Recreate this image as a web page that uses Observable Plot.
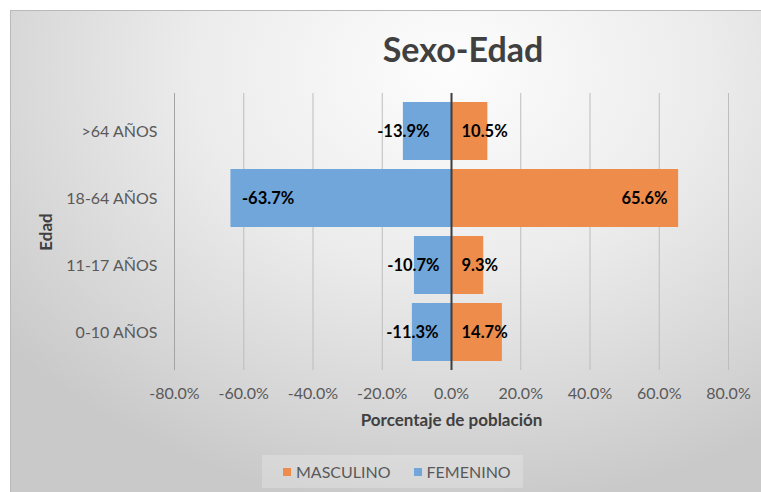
<!DOCTYPE html>
<html>
<head>
<meta charset="utf-8">
<script src="https://cdn.jsdelivr.net/npm/d3@7"></script>
<script src="https://cdn.jsdelivr.net/npm/@observablehq/plot@0.6"></script>
<style>
  html, body { margin: 0; padding: 0; background: #ffffff; }
  body { width: 761px; height: 492px; position: relative; overflow: hidden; font-family: Lato, "Open Sans", sans-serif; }
  #frame {
    position: absolute; left: 10px; top: 10px; width: 760px; height: 490px;
    border: 1px solid #b9b9b9; box-sizing: border-box;
    background: radial-gradient(ellipse 75% 90% at 58% 12%, #fdfdfd 0%, #ececec 45%, #d6d6d6 80%, #c9c9c9 100%);
  }
  #title {
    position: absolute; left: 463px; top: 28px; transform: translateX(-50%);
    font: bold 34px Lato, sans-serif; color: #404040; white-space: nowrap;
  }
  #chart { position: absolute; left: 0; top: 0; }
  #legend {
    position: absolute; left: 262px; top: 455px; width: 261px; height: 33px;
    background: rgba(255,255,255,0.22); display: flex; align-items: center;
    font: 16px Lato, sans-serif; color: #595959; box-sizing: border-box; padding-left: 21px;
  }
  .sw { display: inline-block; width: 8px; height: 8px; margin-right: 5px; }
  .item { display: flex; align-items: center; white-space: nowrap; }
</style>
</head>
<body>
<div id="frame"></div>
<div id="chart"></div>
<div id="title">Sexo-Edad</div>
<div id="legend"></div>
<script>
const categories = [">64 AÑOS", "18-64 AÑOS", "11-17 AÑOS", "0-10 AÑOS"];
const masculino = [10.5, 65.6, 9.3, 14.7];
const femenino = [-13.9, -63.7, -10.7, -11.3];
const xTicks = [-80, -60, -40, -20, 0, 20, 40, 60, 80];
const seriesNames = ["MASCULINO", "FEMENINO"];
const seriesColors = ["#ee8c4c", "#70a6da"];

const rows = [];
categories.forEach((c, i) => {
  rows.push({edad: c, sexo: seriesNames[0], v: masculino[i]});
  rows.push({edad: c, sexo: seriesNames[1], v: femenino[i]});
});
const fmt = v => v.toFixed(1) + "%";

const maleBig = rows.filter(d => d.sexo === "MASCULINO" && Math.abs(d.v) > 30);
const maleSmall = rows.filter(d => d.sexo === "MASCULINO" && Math.abs(d.v) <= 30);
const femBig = rows.filter(d => d.sexo === "FEMENINO" && Math.abs(d.v) > 30);
const femSmall = rows.filter(d => d.sexo === "FEMENINO" && Math.abs(d.v) <= 30);

const labelStyle = {fill: "#000", fontWeight: "bold", fontSize: 16.5, fontFamily: "Lato, sans-serif", text: d => fmt(d.v)};

const chart = Plot.plot({
  width: 761,
  height: 492,
  marginLeft: 174,
  marginRight: 33,
  marginTop: 93,
  marginBottom: 122,
  style: {background: "transparent", fontFamily: "Lato, sans-serif", fontSize: "16px", color: "#595959"},
  x: {domain: [-80, 80], ticks: xTicks},
  y: {domain: categories, padding: 0.13},
  color: {domain: seriesNames, range: seriesColors},
  marks: [
    Plot.gridX(xTicks.filter(t => t !== -80 && t !== 0), {stroke: "#bdbdbd", strokeOpacity: 1}),
    Plot.ruleX([-80], {stroke: "#a3a3a3", strokeWidth: 1}),
    Plot.barX(rows, {x: "v", y: "edad", fill: "sexo"}),
    Plot.ruleX([0], {stroke: "#3d3d3d", strokeWidth: 2}),
    Plot.text(femBig, {...labelStyle, x: "v", y: "edad", textAnchor: "start", dx: 11}),
    Plot.text(femSmall, {...labelStyle, x: d => Math.min(d.v, -11), y: "edad", textAnchor: "middle"}),
    Plot.text(maleBig, {...labelStyle, x: "v", y: "edad", textAnchor: "end", dx: -11}),
    Plot.text(maleSmall, {...labelStyle, x: () => 0, y: "edad", textAnchor: "start", dx: 10}),
    Plot.axisX({ticks: xTicks, tickFormat: fmt, tickSize: 0, tickPadding: 17, fill: "#595959",
      label: "Porcentaje de población", labelAnchor: "center", labelArrow: "none", labelOffset: 55}),
    Plot.axisY({tickSize: 0, tickPadding: 17, fill: "#595959",
      label: "Edad", labelAnchor: "center", labelArrow: "none", labelOffset: 135})
  ]
});
d3.select(chart).selectAll("[aria-label='x-axis label'] text, [aria-label='y-axis label'] text")
  .attr("font-weight", "bold").attr("font-size", 17).attr("fill", "#404040");
document.getElementById("chart").appendChild(chart);

const legend = document.getElementById("legend");
seriesNames.forEach((name, i) => {
  const item = document.createElement("span");
  item.className = "item";
  if (i > 0) item.style.marginLeft = "23px";
  const sw = document.createElement("span");
  sw.className = "sw";
  sw.style.background = seriesColors[i];
  item.appendChild(sw);
  item.appendChild(document.createTextNode(name));
  legend.appendChild(item);
});
</script>
</body>
</html>
